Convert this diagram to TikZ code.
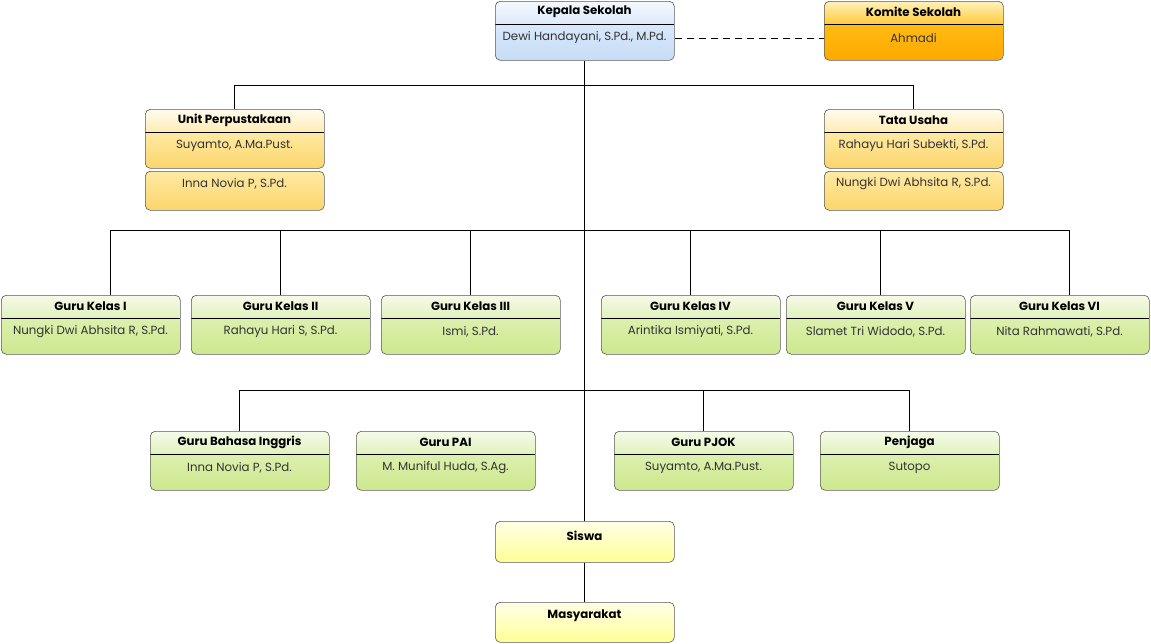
\documentclass[tikz,border=0pt]{standalone}
\usepackage{fontspec}
\setmainfont{Poppins}
\definecolor{bluetA}{HTML}{F5F9FF}\definecolor{bluetB}{HTML}{DDEAFB}
\definecolor{bluebA}{HTML}{D9E8FB}\definecolor{bluebB}{HTML}{C6DCF6}
\definecolor{oratA}{HTML}{FFF2BE}\definecolor{oratB}{HTML}{FFCB3A}
\definecolor{orabA}{HTML}{FFBB14}\definecolor{orabB}{HTML}{FFA900}
\definecolor{gldtA}{HTML}{FFFCF0}\definecolor{gldtB}{HTML}{FFECB4}
\definecolor{gldbA}{HTML}{FFE9A4}\definecolor{gldbB}{HTML}{FCD66C}
\definecolor{grntA}{HTML}{F6FBEA}\definecolor{grntB}{HTML}{E0F2BC}
\definecolor{grnbA}{HTML}{DCF0AE}\definecolor{grnbB}{HTML}{CDE88F}
\definecolor{ylwtA}{HTML}{FFFFE8}\definecolor{ylwtB}{HTML}{FFFF96}
\tikzset{
  lineclr/.style={line width=0.8pt, black},
  frame/.style={draw=black!65, line width=0.6pt, rounded corners=5pt},
  ttl/.style={font=\bfseries\fontsize{11.8}{13}\selectfont, text=black, inner sep=0pt},
  bdy/.style={font=\fontsize{11.8}{13}\selectfont, text=black!80, inner sep=0pt},
}
% two-part box: name, left, top, title, body, colour prefix
\newcommand\orgunit[6]{%
  \begin{scope}
    \clip[rounded corners=5pt] (#2,#3) rectangle ++(179,59);
    \shade[top color=#6tA, bottom color=#6tB] (#2,#3) rectangle ++(179,23);
    \shade[top color=#6bA, bottom color=#6bB] (#2,#3+23) rectangle ++(179,36);
  \end{scope}
  \draw[black, line width=0.8pt] (#2,#3+23) -- ++(179,0);
  \node[frame, anchor=north west, minimum width=179pt, minimum height=59pt, inner sep=0pt] (#1) at (#2,#3) {};
  \node[ttl] (#1-t) at (#2+89.5,#3+11) {#4};
  \node[bdy] (#1-b) at (#2+89.5,#3+37) {#5};
}
% single shaded box: name, left, top, height, top colour, bottom colour
\newcommand\plainunit[6]{%
  \begin{scope}
    \clip[rounded corners=5pt] (#2,#3) rectangle ++(179,#4);
    \shade[top color=#5, bottom color=#6] (#2,#3) rectangle ++(179,#4);
  \end{scope}
  \node[frame, anchor=north west, minimum width=179pt, minimum height=#4pt, inner sep=0pt] (#1) at (#2,#3) {};
}
\begin{document}
\begin{tikzpicture}[x=1pt,y=-1pt]
\useasboundingbox (0,0) rectangle (1151,643);

% top level
\orgunit{ks}{495}{1}{Kepala Sekolah}{Dewi Handayani, S.Pd., M.Pd.}{blue}
\orgunit{kom}{824}{1}{Komite Sekolah}{Ahmadi}{ora}

% library and administration
\orgunit{up}{145}{109}{Unit Perpustakaan}{Suyamto, A.Ma.Pust.}{gld}
\plainunit{up2}{145}{171}{39}{gldbA}{gldbB}
\node[bdy] (up2-b) at (234.5,184) {Inna Novia P, S.Pd.};
\orgunit{tu}{824}{109}{Tata Usaha}{Rahayu Hari Subekti, S.Pd.}{gld}
\plainunit{tu2}{824}{171}{39}{gldbA}{gldbB}
\node[bdy] (tu2-b) at (913.5,184) {Nungki Dwi Abhsita R, S.Pd.};

% class teachers
\orgunit{g1}{1}{295}{Guru Kelas I}{Nungki Dwi Abhsita R, S.Pd.}{grn}
\orgunit{g2}{191}{295}{Guru Kelas II}{Rahayu Hari S, S.Pd.}{grn}
\orgunit{g3}{381}{295}{Guru Kelas III}{Ismi, S.Pd.}{grn}
\orgunit{g4}{601}{295}{Guru Kelas IV}{Arintika Ismiyati, S.Pd.}{grn}
\orgunit{g5}{786}{295}{Guru Kelas V}{Slamet Tri Widodo, S.Pd.}{grn}
\orgunit{g6}{970}{295}{Guru Kelas VI}{Nita Rahmawati, S.Pd.}{grn}

% subject teachers and staff
\orgunit{bi}{150}{431}{Guru Bahasa Inggris}{Inna Novia P, S.Pd.}{grn}
\orgunit{pai}{356}{431}{Guru PAI}{M. Muniful Huda, S.Ag.}{grn}
\orgunit{pjok}{614}{431}{Guru PJOK}{Suyamto, A.Ma.Pust.}{grn}
\orgunit{pen}{820}{431}{Penjaga}{Sutopo}{grn}

% students and community
\plainunit{sis}{495}{521}{41}{ylwtA}{ylwtB}
\node[ttl] (sis-t) at (584.5,535.5) {Siswa};
\plainunit{mas}{495}{602}{40}{ylwtA}{ylwtB}
\node[ttl] (mas-t) at (584.5,616) {Masyarakat};

% connectors
\draw[lineclr] (ks.south) -- (sis.north);
\draw[lineclr] (sis.south) -- (mas.north);
\draw[lineclr, dash pattern=on 7pt off 5pt] (ks.east |- ks-b) -- (kom.west |- ks-b);
\draw[lineclr] (up.north) -- ++(0,-24) -| (tu.north);
\draw[lineclr] ([xshift=20pt]g1.north) -- ++(0,-65) -| ([xshift=10pt]g6.north);
\draw[lineclr] (g2.north) -- ++(0,-65);
\draw[lineclr] (g3.north) -- ++(0,-65);
\draw[lineclr] (g4.north) -- ++(0,-65);
\draw[lineclr] ([xshift=5pt]g5.north) -- ++(0,-65);
\draw[lineclr] (bi.north) -- ++(0,-41) -| (pen.north);
\draw[lineclr] (pjok.north) -- ++(0,-41);
\end{tikzpicture}
\end{document}
